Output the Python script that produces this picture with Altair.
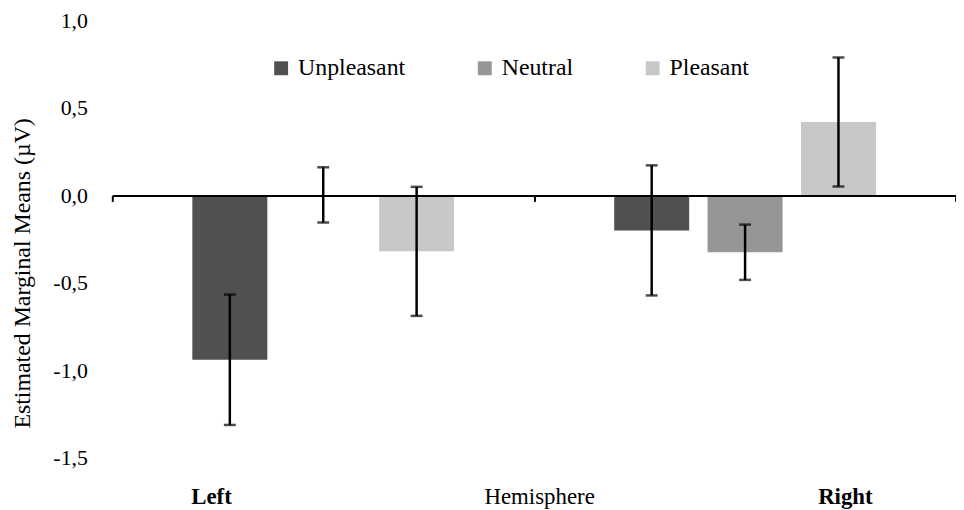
import altair as alt
import pandas as pd

hemispheres = ["Left", "Left", "Left", "Right", "Right", "Right"]
emotions = ["Unpleasant", "Neutral", "Pleasant", "Unpleasant", "Neutral", "Pleasant"]
means = [-0.94, 0.003, -0.32, -0.20, -0.325, 0.42]
errors = [0.373, 0.158, 0.369, 0.372, 0.158, 0.369]

emotion_order = ["Unpleasant", "Neutral", "Pleasant"]
colors = ["#505050", "#969696", "#c8c8c8"]
y_ticks = [-1.5, -1.0, -0.5, 0.0, 0.5, 1.0]

df = pd.DataFrame({
    "hemi": hemispheres,
    "emotion": emotions,
    "mean": means,
    "err": errors,
})
df["lo"] = df["mean"] - df["err"]
df["hi"] = df["mean"] + df["err"]

FONT = "Liberation Serif"

x_enc = alt.X(
    "hemi:N",
    scale=alt.Scale(domain=["Left", "Right"], paddingInner=0, paddingOuter=0),
    axis=alt.Axis(
        title="Hemisphere",
        orient="bottom",
        offset=-264,
        domain=True,
        domainColor="black",
        domainWidth=2,
        ticks=True,
        tickBand="extent",
        tickSize=6,
        tickWidth=2,
        tickColor="black",
        labelAngle=0,
        labelFont=FONT,
        labelFontSize=23,
        labelFontWeight="bold",
        labelColor="black",
        labelBaseline="alphabetic",
        labelPadding=304,
        labelOffset={"condition": {"test": "datum.value == 'Left'", "value": -113}, "value": 100.5},
        titleFont=FONT,
        titleFontSize=23,
        titleFontWeight="normal",
        titleColor="black",
        titleBaseline="alphabetic",
        titleAlign="center",
        titleX=429.7,
        titleY=310,
        zindex=1,
    ),
)
xoff_enc = alt.XOffset(
    "emotion:N",
    scale=alt.Scale(domain=emotion_order, paddingInner=0.197, paddingOuter=0.857),
)
y_scale = alt.Scale(domain=[-1.5, 1.0], nice=False, zero=False)

base = alt.Chart(df)

bars = base.mark_bar().encode(
    x=x_enc,
    xOffset=xoff_enc,
    y=alt.Y(
        "mean:Q",
        scale=y_scale,
        axis=alt.Axis(
            title="Estimated Marginal Means (µV)",
            values=y_ticks,
            labelExpr="(datum.value < 0 ? '-' : '') + replace(format(abs(datum.value), '.1f'), '.', ',')",
            domain=False,
            ticks=False,
            grid=False,
            labelFont=FONT,
            labelFontSize=22,
            labelColor="black",
            labelPadding=25,
            titleFont=FONT,
            titleFontSize=24,
            titleFontWeight="normal",
            titleColor="black",
            titleAngle=270,
            titleBaseline="alphabetic",
            titleAlign="center",
            titleX=-83,
            titleY=254,
        ),
    ),
    y2=alt.datum(0),
    color=alt.Color(
        "emotion:N",
        scale=alt.Scale(domain=emotion_order, range=colors),
        legend=alt.Legend(
            title=None,
            orient="none",
            legendX=158,
            legendY=36,
            direction="horizontal",
            columns=3,
            symbolType="square",
            symbolSize=196,
            symbolStrokeWidth=0,
            symbolOpacity=1,
            labelFont=FONT,
            labelFontSize=24,
            labelColor="black",
            labelOffset=5,
            columnPadding=68,
        ),
    ),
)

rules = base.mark_rule(color="black", strokeWidth=2.5).encode(
    x=x_enc, xOffset=xoff_enc, y=alt.Y("lo:Q", scale=y_scale), y2="hi:Q"
)
lo_ticks = base.mark_tick(color="black", size=12, thickness=2.5).encode(
    x=x_enc, xOffset=xoff_enc, y=alt.Y("lo:Q", scale=y_scale)
)
hi_ticks = base.mark_tick(color="black", size=12, thickness=2.5).encode(
    x=x_enc, xOffset=xoff_enc, y=alt.Y("hi:Q", scale=y_scale)
)

chart = (
    alt.layer(bars, rules, lo_ticks, hi_ticks)
    .properties(
        width=849.4,
        height=440,
        padding={"left": 105, "top": 11, "right": 0, "bottom": 50},
        autosize=alt.AutoSizeParams(type="none"),
        background="white",
    )
    .configure_view(stroke=None)
)

chart.save("out.html", embed_options={"renderer": "svg", "actions": False})
